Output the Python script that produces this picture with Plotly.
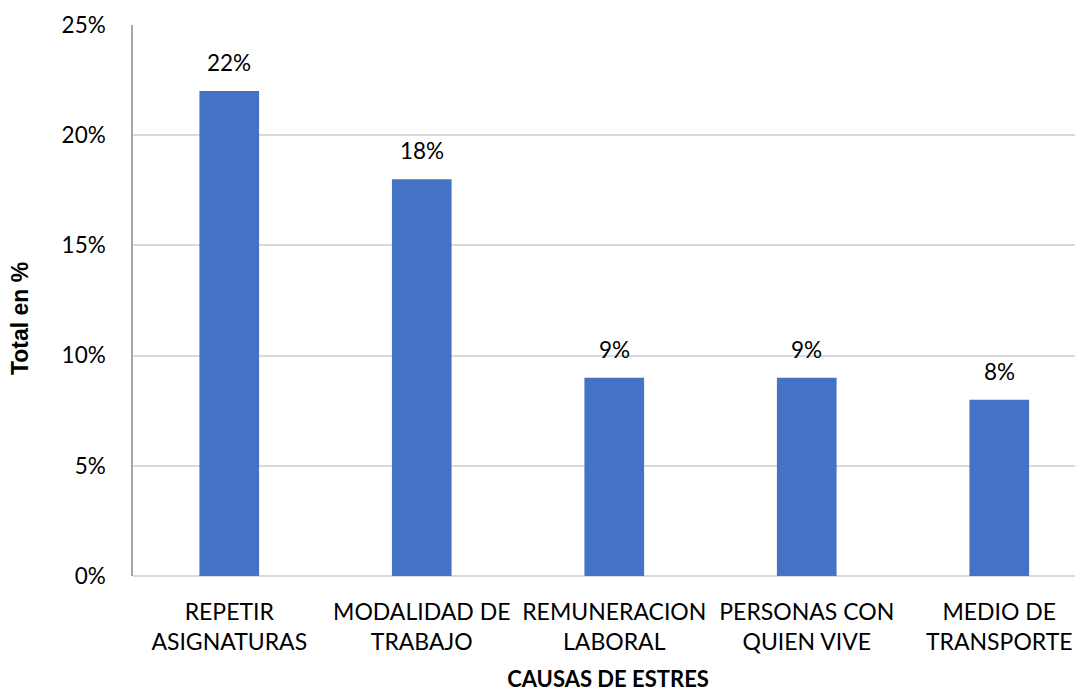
import plotly.graph_objects as go

causas = ["REPETIR<br>ASIGNATURAS", "MODALIDAD DE<br>TRABAJO", "REMUNERACION<br>LABORAL",
          "PERSONAS CON<br>QUIEN VIVE", "MEDIO DE<br>TRANSPORTE"]
totales = [0.22, 0.18, 0.09, 0.09, 0.08]
y_ticks = [0, 0.05, 0.10, 0.15, 0.20, 0.25]

FONT = "Lato"

fig = go.Figure(go.Bar(
    x=causas, y=totales,
    marker=dict(color="#4472C4", line=dict(width=0)),
    hoverinfo="skip",
))

# value labels sit a bit above each bar, like the Excel original
for c, v in zip(causas, totales):
    fig.add_annotation(x=c, y=v, text=f"{v:.0%}", showarrow=False,
                       yanchor="bottom", yshift=13,
                       font=dict(size=22.5, color="#000000", family=FONT))

# y title sits a little below the middle in the original, so place it by hand
fig.add_annotation(text="<b>Total en %</b>", xref="paper", yref="paper",
                   x=-0.119, y=0.468, xanchor="center", yanchor="middle",
                   textangle=-90, showarrow=False,
                   font=dict(size=23, family="Liberation Sans", color="#000000"))

# page body has an 8px margin, so the figure is a bit smaller than the window
fig.update_layout(
    width=1075, height=684,
    margin=dict(l=125, r=0, t=17, b=116),
    paper_bgcolor="white", plot_bgcolor="white",
    bargap=0.69,
    showlegend=False,
    font=dict(family=FONT, size=22, color="#000000"),
)
fig.update_xaxes(
    range=[-0.5, 4.435], automargin=False,
    showgrid=False, showline=False, zeroline=False,
    ticks="", ticklabelstandoff=20,
    tickfont=dict(size=23, family=FONT),
    title=dict(text="<b>CAUSAS DE ESTRES</b>", font=dict(size=22, family=FONT), standoff=28),
)
fig.update_yaxes(
    range=[0, 0.25], tickvals=y_ticks, tickformat=".0%", automargin=False,
    showgrid=True, gridcolor="#D9D9D9", gridwidth=1.5,
    showline=True, linecolor="#A6A6A6", linewidth=1.5,
    zeroline=True, zerolinecolor="#D9D9D9", zerolinewidth=1.5,
    ticks="", ticklabelstandoff=21,
    tickfont=dict(size=22.5, family=FONT),
)

fig.write_html("out.html")
